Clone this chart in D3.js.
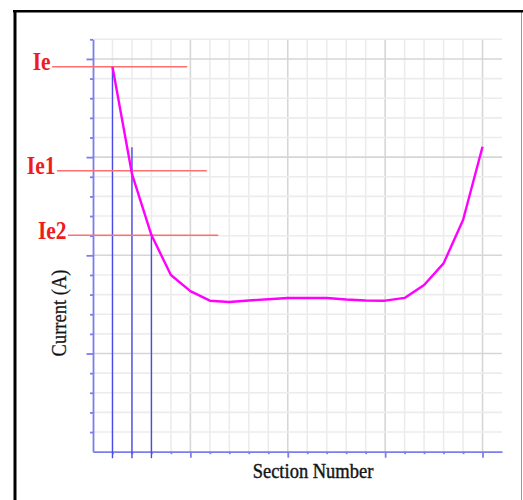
<!DOCTYPE html>
<html>
<head>
<meta charset="utf-8">
<script src="https://cdn.jsdelivr.net/npm/d3@7"></script>
<style>
  body { margin: 0; background: #fff; }
  svg { display: block; }
</style>
</head>
<body>
<script>
// section number vs current
const sections = [1, 2, 3, 4, 5, 6, 7, 8, 9, 10, 11, 12, 13, 14, 15, 16, 17, 18, 19, 20]
const current = [19.6, 14.15, 11.03, 9.0, 8.18, 7.69, 7.62, 7.70, 7.76, 7.83, 7.83, 7.83, 7.75, 7.70, 7.69, 7.83, 8.49, 9.59, 11.8, 15.53]

// reference currents Ie, Ie1, Ie2
const refLabels = ["Ie", "Ie1", "Ie2"]
const refValues = [19.6, 14.31, 11.02]
const refStart = [-2.1, -1.85, -1.28]   // in section units
const refEnd = [4.84, 5.84, 6.43]

// blue section markers
const markerSections = [1, 2, 3]
const markerTops = [19.6, 15.5, 11.02]

const xTicks = d3.range(0, 21)
const yTicks = d3.range(0, 22)

const width = 523
const height = 500
const serif = '"Liberation Serif", "Times New Roman", serif'

const svg = d3.select("body").append("svg")
    .attr("width", width)
    .attr("height", height)

const x = d3.scaleLinear().domain([0, 21]).range([93, 502])
const y = d3.scaleLinear().domain([0, 21]).range([451.7, 39.3])

// frame
svg.append("line")
    .attr("x1", 521.5).attr("x2", 521.5).attr("y1", 10).attr("y2", height)
    .attr("stroke", "#9a9a9a").attr("stroke-width", 1)
svg.append("line")
    .attr("x1", 13).attr("x2", width).attr("y1", 11.2).attr("y2", 11.2)
    .attr("stroke", "#000").attr("stroke-width", 2.6)
svg.append("line")
    .attr("x1", 15).attr("x2", 15).attr("y1", 10).attr("y2", height)
    .attr("stroke", "#000").attr("stroke-width", 3)

// grid
const grid = svg.append("g")
grid.selectAll("line.v")
    .data(xTicks.slice(1))
    .join("line")
    .attr("class", "v")
    .attr("x1", d => x(d)).attr("x2", d => x(d))
    .attr("y1", y(0)).attr("y2", y(21))
    .attr("stroke", d => d % 5 === 0 ? "#d6d6d6" : "#ececec")
    .attr("stroke-width", 1.6)
grid.selectAll("line.h")
    .data(yTicks.slice(1))
    .join("line")
    .attr("class", "h")
    .attr("x1", x(0)).attr("x2", x(21))
    .attr("y1", d => y(d)).attr("y2", d => y(d))
    .attr("stroke", d => d % 5 === 0 ? "#d6d6d6" : "#ececec")
    .attr("stroke-width", 1.6)

// axes
const axisColor = "#7d7dee"
const xAxis = svg.append("g")
    .attr("transform", `translate(0,${y(0)})`)
    .call(d3.axisBottom(x).tickValues(xTicks.slice(1)).tickSizeInner(2.5).tickSizeOuter(0).tickFormat(""))
xAxis.selectAll(".tick line")
    .attr("y2", d => d % 5 === 0 ? 6 : 2.5)
const yAxis = svg.append("g")
    .attr("transform", `translate(${x(0)},0)`)
    .call(d3.axisLeft(y).tickValues(yTicks.slice(1)).tickSizeInner(3).tickSizeOuter(0).tickFormat(""))
yAxis.selectAll(".tick line")
    .attr("x2", d => d % 5 === 0 ? -6.5 : -3)
svg.selectAll(".domain, .tick line")
    .attr("stroke", axisColor)
    .attr("stroke-width", 1.8)

// blue markers
svg.append("g").selectAll("line")
    .data(markerSections)
    .join("line")
    .attr("x1", d => x(d)).attr("x2", d => x(d))
    .attr("y1", (d, i) => y(markerTops[i]))
    .attr("y2", y(0) + 6.5)
    .attr("stroke", "#4a4ae6")
    .attr("stroke-width", 1.4)

// red reference lines
svg.append("g").selectAll("line")
    .data(refValues)
    .join("line")
    .attr("x1", (d, i) => x(refStart[i]))
    .attr("x2", (d, i) => x(refEnd[i]))
    .attr("y1", d => y(d)).attr("y2", d => y(d))
    .attr("stroke", "#ff6f6f")
    .attr("stroke-width", 1.6)

svg.append("g").selectAll("text")
    .data(refLabels)
    .join("text")
    .attr("transform", (d, i) => `translate(${x(refStart[i]) - 1.5},${y(refValues[i]) + 3.5}) scale(1,1.15)`)
    .attr("text-anchor", "end")
    .attr("font-family", serif)
    .attr("font-weight", "bold")
    .attr("font-size", 21.5)
    .attr("fill", "#ee1c1c")
    .text(d => d)

// current curve
const line = d3.line()
    .x((d, i) => x(sections[i]))
    .y(d => y(d))
svg.append("path")
    .datum(current)
    .attr("d", line)
    .attr("fill", "none")
    .attr("stroke", "#ff00ff")
    .attr("stroke-width", 2.4)
    .attr("stroke-linejoin", "round")

// axis titles
svg.append("text")
    .attr("transform", "translate(313,478) scale(1,1.08)")
    .attr("text-anchor", "middle")
    .attr("font-family", serif)
    .attr("font-size", 18.5)
    .attr("fill", "#111")
    .attr("stroke", "#222")
    .attr("stroke-width", 0.4)
    .text("Section Number")

svg.append("text")
    .attr("transform", "translate(66,313) rotate(-90) scale(1,1.08)")
    .attr("text-anchor", "middle")
    .attr("font-family", serif)
    .attr("font-size", 18.5)
    .attr("fill", "#111")
    .attr("stroke", "#222")
    .attr("stroke-width", 0.25)
    .text("Current (A)")
</script>
</body>
</html>
